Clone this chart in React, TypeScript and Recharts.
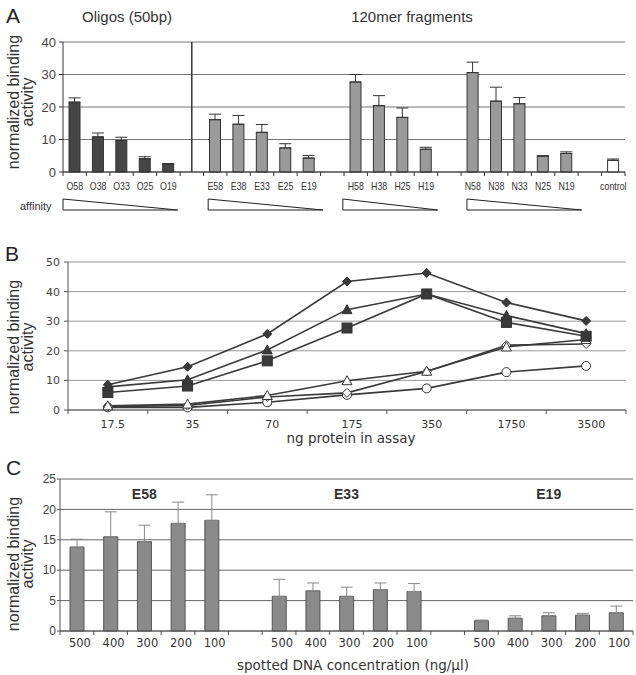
import React from "react";
import {
  Bar,
  BarChart,
  CartesianGrid,
  Cell,
  ComposedChart,
  ErrorBar,
  Line,
  ReferenceLine,
  XAxis,
  YAxis,
} from "recharts";

// ---- panel A: binding per probe ----
const aLabels = [
  "O58", "O38", "O33", "O25", "O19", "",
  "E58", "E38", "E33", "E25", "E19", "",
  "H58", "H38", "H25", "H19", "",
  "N58", "N38", "N33", "N25", "N19", "",
  "control",
];
const aGroups = [
  "oligo", "oligo", "oligo", "oligo", "oligo", "gap",
  "frag", "frag", "frag", "frag", "frag", "gap",
  "frag", "frag", "frag", "frag", "gap",
  "frag", "frag", "frag", "frag", "frag", "gap",
  "ctrl",
];
const aValues = [
  21.5, 10.8, 9.7, 4.1, 2.4, null,
  16.1, 14.7, 12.2, 7.4, 4.3, null,
  27.7, 20.4, 16.8, 7.0, null,
  30.6, 21.8, 21.0, 4.9, 5.7, null,
  3.6,
];
const aErrors = [
  1.3, 1.2, 1.0, 0.6, 0.2, null,
  1.7, 2.7, 2.4, 1.3, 0.8, null,
  2.3, 3.1, 2.9, 0.6, null,
  3.2, 4.3, 1.9, 0.1, 0.5, null,
  0.4,
];
const aTicks = [0, 10, 20, 30, 40];

// ---- panel B: dose response ----
const bDoses = ["17.5", "35", "70", "175", "350", "1750", "3500"];
const bFilledDiamond = [8.5, 14.6, 25.7, 43.4, 46.3, 36.3, 30.1];
const bFilledTriangle = [7.8, 10.2, 20.3, 33.9, 39.2, 31.9, 25.8];
const bFilledSquare = [5.9, 8.1, 16.6, 27.7, 39.2, 29.6, 24.9];
const bOpenTriangle = [1.4, 2.0, 4.9, 9.9, 13.1, 21.3, 23.8];
const bOpenDiamond = [1.1, 1.5, 4.4, 5.8, 13.0, 21.9, 22.3];
const bOpenCircle = [0.9, 0.9, 2.6, 5.1, 7.3, 12.8, 14.9];
const bTicks = [0, 10, 20, 30, 40, 50];

// ---- panel C: spotted concentration ----
const cConc = ["500", "400", "300", "200", "100"];
const cProbes = ["E58", "E33", "E19"];
const cValues = [
  [13.8, 15.5, 14.7, 17.7, 18.2],
  [5.7, 6.6, 5.7, 6.8, 6.5],
  [1.7, 2.1, 2.5, 2.6, 3.0],
];
const cErrors = [
  [1.3, 4.1, 2.7, 3.5, 4.2],
  [2.8, 1.3, 1.5, 1.1, 1.3],
  [0.1, 0.4, 0.5, 0.3, 1.1],
];
const cTicks = [0, 5, 10, 15, 20, 25];

const aData = aLabels.map((label, i) => ({
  id: `a${i}`,
  label,
  group: aGroups[i],
  value: aValues[i],
  err: aErrors[i] == null ? undefined : [0, aErrors[i]],
}));

const bData = bDoses.map((dose, i) => ({
  dose,
  fd: bFilledDiamond[i],
  ft: bFilledTriangle[i],
  fs: bFilledSquare[i],
  ot: bOpenTriangle[i],
  od: bOpenDiamond[i],
  oc: bOpenCircle[i],
}));

const cData: { id: string; label: string; value: number | null; err?: number[] }[] = [];
cProbes.forEach((_, p) => {
  if (p > 0) cData.push({ id: `gap${p}`, label: "", value: null });
  cConc.forEach((conc, j) => {
    cData.push({ id: `${p}-${j}`, label: conc, value: cValues[p][j], err: [0, cErrors[p][j]] });
  });
});

const barFill: Record<string, string> = { oligo: "#464646", frag: "#9a9a9a", ctrl: "#ffffff", gap: "none" };

const SANS = "'Liberation Sans', Arial, sans-serif";
const VERDANA = "'DejaVu Sans', Verdana, sans-serif";

// category ticks: label in the slot centre, tick mark on slot boundaries
function slotTick(labels: string[], slot: number, fontSize: number, fontFamily: string, gap: number, dx = 0, stroke = "#333", squeeze = 1) {
  return (props: any) => {
    const { x, y, payload } = props;
    const i = payload.index;
    const axisY = y - 8;
    return (
      <g>
        {i === 0 && <line x1={x - slot / 2} x2={x - slot / 2} y1={axisY} y2={axisY + 4} stroke={stroke} />}
        <line x1={x + slot / 2} x2={x + slot / 2} y1={axisY} y2={axisY + 4} stroke={stroke} />
        <text
          transform={`translate(${x + dx},${axisY + gap}) scale(${squeeze},1)`}
          dy="0.71em"
          textAnchor="middle"
          fontSize={fontSize}
          fontFamily={fontFamily}
          fill="#333"
        >
          {labels[i]}
        </text>
      </g>
    );
  };
}

function marker(shape: string, filled: boolean) {
  return (props: any) => {
    const { cx, cy, index } = props;
    const fill = filled ? "#3a3a3a" : "#fff";
    const key = `${shape}-${index}`;
    if (cx == null || cy == null) return <g key={key} />;
    if (shape === "diamond") {
      const r = 4.5;
      return <polygon key={key} points={`${cx},${cy - r} ${cx + r},${cy} ${cx},${cy + r} ${cx - r},${cy}`} fill={fill} stroke="#333" strokeWidth={1} />;
    }
    if (shape === "triangle") {
      const r = 5;
      return <polygon key={key} points={`${cx},${cy - r} ${cx + r},${cy + r * 0.8} ${cx - r},${cy + r * 0.8}`} fill={fill} stroke="#333" strokeWidth={1} />;
    }
    if (shape === "square") {
      return <rect key={key} x={cx - 5} y={cy - 5} width={10} height={10} fill={fill} stroke="#333" strokeWidth={1} />;
    }
    return <circle key={key} cx={cx} cy={cy} r={4.5} fill={fill} stroke="#333" strokeWidth={1} />;
  };
}

const aSlot = (625 - 63) / aLabels.length;
const bSlot = (626 - 68) / bDoses.length;
const cSlot = (633 - 60) / 17;

// affinity wedges, in slot units of panel A
const wedges = [
  [0, 4.9],
  [6.2, 11.1],
  [11.95, 16],
  [17.25, 22.15],
];

function YTitle({ x, y }: { x: number; y: number }) {
  return (
    <g fontFamily={SANS} fontSize={16} fill="#333" textAnchor="middle">
      <text transform={`translate(${x},${y}) rotate(-90)`}>normalized binding</text>
      <text transform={`translate(${x + 14},${y}) rotate(-90)`}>activity</text>
    </g>
  );
}

function series(key: string, shape: string, filled: boolean) {
  return (
    <Line
      key={key}
      dataKey={key}
      type="linear"
      stroke="#3a3a3a"
      strokeWidth={1.6}
      dot={marker(shape, filled)}
      activeDot={false}
      isAnimationActive={false}
    />
  );
}

export default function App() {
  return (
    <div style={{ position: "absolute", left: 0, top: 0, width: 636, height: 675, background: "#fff" }}>
      <div style={{ position: "absolute", left: 0, top: 0 }}>
        <BarChart width={636} height={195} data={aData} margin={{ top: 42, right: 11, left: 33, bottom: 3 }} barSize={11}>
          <CartesianGrid vertical={false} stroke="#777" />
          <XAxis
            dataKey="id"
            interval={0}
            tickLine={false}
            tickSize={5}
            tickMargin={3}
            height={20}
            stroke="#333"
            tick={slotTick(aLabels, aSlot, 11, SANS, 10, 0, "#333", 0.8)}
          />
          <YAxis domain={[0, 40]} ticks={aTicks} width={30} tickSize={4} tickMargin={3} stroke="#333" tick={{ fontSize: 13, fontFamily: SANS, fill: "#444" }} />
          <YAxis yAxisId="r" orientation="right" width={0} tick={false} tickLine={false} stroke="#555" />
          <ReferenceLine x="a5" stroke="#333" strokeWidth={1.5} />
          <Bar dataKey="value" stroke="#333" strokeWidth={1} isAnimationActive={false}>
            {aData.map((d) => (
              <Cell key={d.id} fill={barFill[d.group]} />
            ))}
            <ErrorBar dataKey="err" width={6} stroke="#333" strokeWidth={1} direction="y" />
          </Bar>
        </BarChart>
      </div>

      <div style={{ position: "absolute", left: 0, top: 230 }}>
        <ComposedChart width={636} height={200} data={bData} margin={{ top: 32, right: 10, left: 38, bottom: 0 }}>
          <CartesianGrid vertical={false} stroke="#999" />
          <XAxis
            dataKey="dose"
            scale="band"
            interval={0}
            tickLine={false}
            tickSize={5}
            tickMargin={3}
            height={20}
            stroke="#555"
            tick={slotTick(bDoses, bSlot, 11, VERDANA, 10, 5, "#555")}
          />
          <YAxis domain={[0, 50]} ticks={bTicks} width={30} tickSize={4} tickMargin={4} stroke="#555" tick={{ fontSize: 11, fontFamily: VERDANA, fill: "#444" }} />
          <YAxis yAxisId="r" orientation="right" width={0} tick={false} tickLine={false} stroke="#999" />
          {series("oc", "circle", false)}
          {series("od", "diamond", false)}
          {series("ot", "triangle", false)}
          {series("fs", "square", true)}
          {series("ft", "triangle", true)}
          {series("fd", "diamond", true)}
        </ComposedChart>
      </div>

      <div style={{ position: "absolute", left: 0, top: 450 }}>
        <BarChart width={636} height={215} data={cData} margin={{ top: 29, right: 3, left: 30, bottom: 10 }} barSize={14}>
          <CartesianGrid vertical={false} stroke="#666" />
          <XAxis
            dataKey="id"
            interval={0}
            tickLine={false}
            tickSize={5}
            tickMargin={3}
            height={24}
            stroke="#555"
            tick={slotTick(cData.map((d) => d.label), cSlot, 11.5, VERDANA, 8, 3, "#555")}
          />
          <YAxis domain={[0, 25]} ticks={cTicks} width={30} tickSize={3} tickMargin={1} stroke="#555" tick={{ fontSize: 12, fontFamily: SANS, fill: "#444" }} />
          <YAxis yAxisId="r" orientation="right" width={0} tick={false} tickLine={false} stroke="#999" />
          <Bar dataKey="value" fill="#8a8a8a" stroke="#555" strokeWidth={1} isAnimationActive={false}>
            <ErrorBar dataKey="err" width={6} stroke="#888" strokeWidth={1} direction="y" />
          </Bar>
        </BarChart>
      </div>

      <svg width={636} height={675} style={{ position: "absolute", left: 0, top: 0, pointerEvents: "none" }}>
        <g fontFamily={SANS} fontSize={21} fill="#222">
          <text x={6} y={23}>A</text>
          <text x={5} y={261}>B</text>
          <text x={6} y={475}>C</text>
        </g>
        <g fontFamily={SANS} fontSize={15} fill="#333" textAnchor="middle">
          <text x={127} y={22}>Oligos (50bp)</text>
          <text x={412} y={22}>120mer fragments</text>
        </g>
        <text x={20} y={210} fontFamily={SANS} fontSize={11} fill="#333">affinity</text>
        {wedges.map(([s, e], i) => {
          const x0 = 63 + s * aSlot;
          const x1 = 63 + e * aSlot;
          return <polygon key={i} points={`${x0},199 ${x0},210 ${x1},210`} fill="#fff" stroke="#222" strokeWidth={1} />;
        })}
        <YTitle x={19} y={102} />
        <YTitle x={19} y={347} />
        <YTitle x={19} y={564} />
        <text x={351} y={443} textAnchor="middle" fontFamily={VERDANA} fontSize={13.5} fill="#333">ng protein in assay</text>
        <text x={353} y={670} textAnchor="middle" fontFamily={VERDANA} fontSize={13.5} fill="#333">spotted DNA concentration (ng/µl)</text>
        <g fontFamily={SANS} fontSize={14} fontWeight="bold" fill="#333" textAnchor="middle">
          {cProbes.map((p, i) => (
            <text key={p} x={60 + (i * 6 + 2.5) * cSlot} y={499}>{p}</text>
          ))}
        </g>
      </svg>
    </div>
  );
}
